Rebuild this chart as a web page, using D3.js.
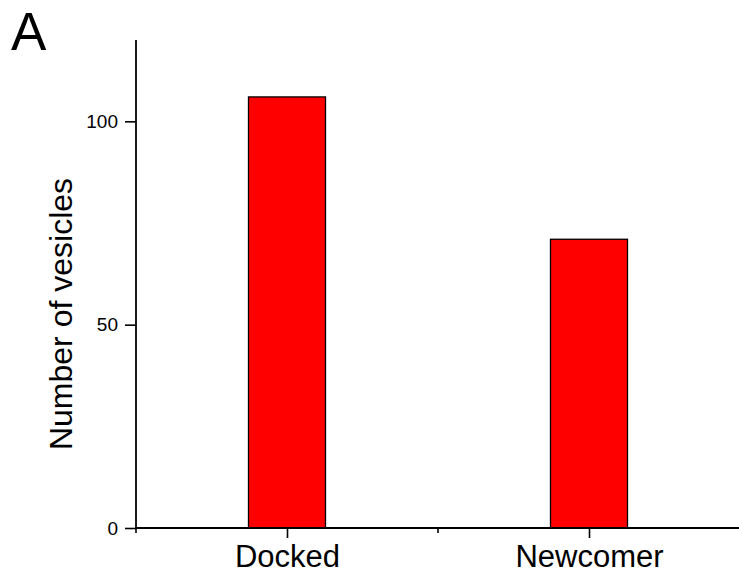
<!DOCTYPE html>
<html>
<head>
<meta charset="utf-8">
<script src="https://cdn.jsdelivr.net/npm/d3@7"></script>
<style>
  html, body { margin: 0; padding: 0; background: #fff; }
  svg { display: block; font-family: "Liberation Sans", Arial, sans-serif; }
</style>
</head>
<body>
<svg id="chart" width="739" height="573"></svg>
<script>
// Vesicle counts per category
const categories = ["Docked", "Newcomer"];
const counts = [106, 71];
const yTicks = [0, 50, 100];
const yLabel = "Number of vesicles";
const panelLabel = "A";

const svg = d3.select("#chart");
const margin = { left: 136, top: 40, bottom: 528, right: 740 };

// Categories sit at positions 1..n on a continuous axis, half a slot of padding each side
const x = d3.scaleLinear()
  .domain([0.5, categories.length + 0.5])
  .range([margin.left, margin.right]);
const y = d3.scaleLinear()
  .domain([0, 120])
  .range([margin.bottom, margin.top]);

const barWidth = 0.255; // in category units

// Bars
svg.append("g")
  .selectAll("rect")
  .data(counts)
  .join("rect")
  .attr("x", (d, i) => x(i + 1 - barWidth / 2))
  .attr("y", d => y(d))
  .attr("width", x(1 + barWidth / 2) - x(1 - barWidth / 2))
  .attr("height", d => y(0) - y(d))
  .attr("fill", "#ff0000")
  .attr("stroke", "#000")
  .attr("stroke-width", 1.3);

// Y axis
const yAxis = d3.axisLeft(y)
  .tickValues(yTicks)
  .tickSize(11)
  .tickPadding(7);
const gy = svg.append("g")
  .attr("transform", `translate(${margin.left},0)`)
  .call(yAxis);
gy.select(".domain").attr("d", `M0,${y(0)}V${margin.top}`);

// X axis: major ticks under categories, minor ticks between
const xAxis = d3.axisBottom(x)
  .tickValues(d3.range(1, categories.length + 1))
  .tickFormat(i => categories[i - 1])
  .tickSize(10)
  .tickPadding(10);
const gx = svg.append("g")
  .attr("transform", `translate(0,${margin.bottom})`)
  .call(xAxis);
gx.select(".domain").attr("d", `M${margin.left},0H${margin.right}`);
gx.selectAll("text")
  .attr("font-size", 31)
  .attr("y", 39)
  .attr("dy", null);

const minorTicks = d3.range(0.5, categories.length + 1, 1);
gx.selectAll(".minor")
  .data(minorTicks)
  .join("line")
  .attr("class", "minor")
  .attr("x1", d => x(d)).attr("x2", d => x(d))
  .attr("y1", 0).attr("y2", 5)
  .attr("stroke", "#000")
  .attr("stroke-width", 1.6);

[gx, gy].forEach(g => {
  g.selectAll(".domain").attr("stroke", "#000").attr("stroke-width", 1.8);
  g.selectAll(".tick line").attr("stroke", "#000").attr("stroke-width", 1.6);
  g.attr("font-family", null);
});
gy.selectAll("text").attr("font-size", 19).attr("fill", "#000");
gx.selectAll("text").attr("fill", "#000");

// Y axis title
svg.append("text")
  .attr("transform", `translate(72,314) rotate(-90)`)
  .attr("text-anchor", "middle")
  .attr("font-size", 32)
  .attr("fill", "#000")
  .text(yLabel);

// Panel label
svg.append("text")
  .attr("x", 11)
  .attr("y", 50)
  .attr("font-size", 53)
  .attr("fill", "#000")
  .text(panelLabel);
</script>
</body>
</html>
